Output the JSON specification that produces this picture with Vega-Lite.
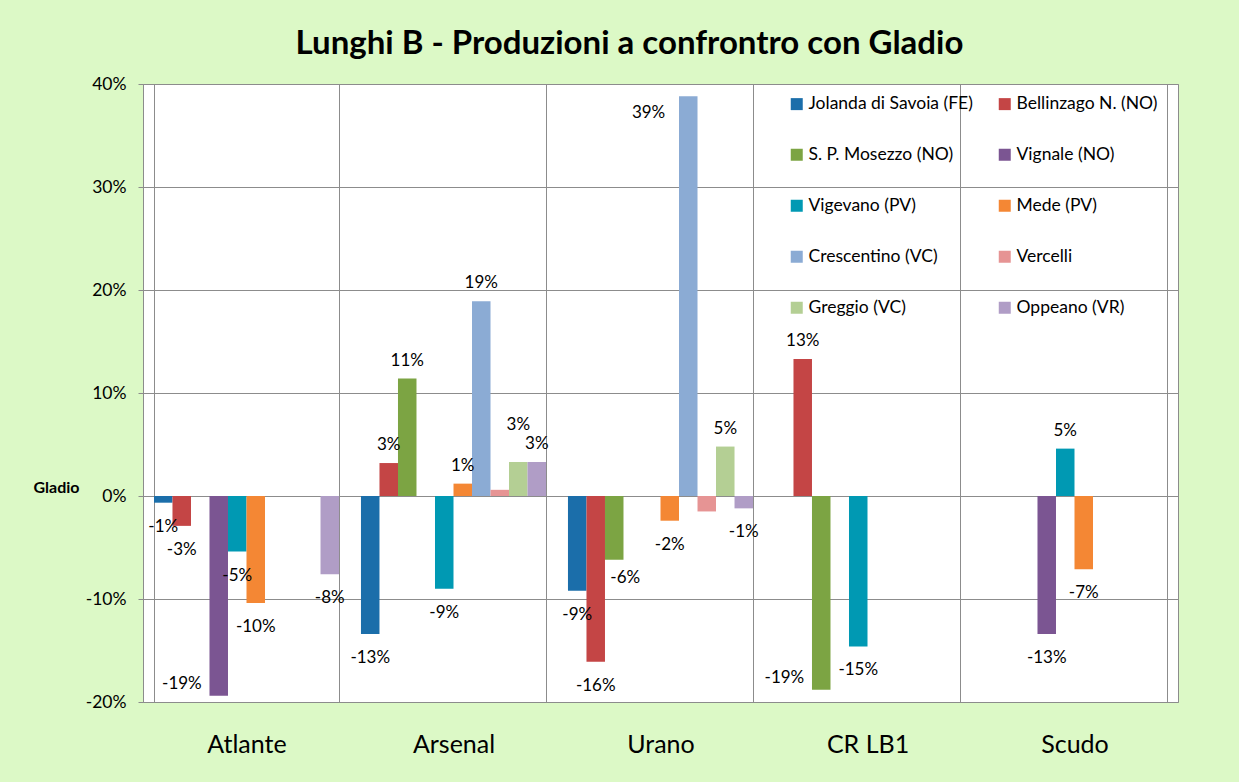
{
  "$schema": "https://vega.github.io/schema/vega-lite/v6.json",
  "width": 1035,
  "height": 618,
  "autosize": {"type": "none"},
  "padding": {"left": 143, "top": 84, "right": 61, "bottom": 80},
  "background": "#DCF9C6",
  "title": {
    "text": "Lunghi B - Produzioni a confrontro con Gladio",
    "font": "Lato",
    "fontSize": 33,
    "fontWeight": "bold",
    "color": "#000000",
    "anchor": "middle",
    "dx": -31,
    "offset": 14
  },
  "config": {
    "view": {"stroke": "#8C8C8C", "fill": "#FFFFFF"},
    "font": "Lato",
    "locale": {
      "number": {"decimal": ".", "thousands": ",", "grouping": [3], "currency": ["$", ""], "minus": "-"}
    }
  },
  "data": {
    "values": [
      {"cat": "Atlante", "series": "Jolanda di Savoia (FE)", "value": -0.0065},
      {"cat": "Atlante", "series": "Bellinzago N. (NO)", "value": -0.029},
      {"cat": "Atlante", "series": "Vignale (NO)", "value": -0.194},
      {"cat": "Atlante", "series": "Vigevano (PV)", "value": -0.054},
      {"cat": "Atlante", "series": "Mede (PV)", "value": -0.104},
      {"cat": "Atlante", "series": "Oppeano (VR)", "value": -0.076},
      {"cat": "Arsenal", "series": "Jolanda di Savoia (FE)", "value": -0.134},
      {"cat": "Arsenal", "series": "Bellinzago N. (NO)", "value": 0.032},
      {"cat": "Arsenal", "series": "S. P. Mosezzo (NO)", "value": 0.114},
      {"cat": "Arsenal", "series": "Vigevano (PV)", "value": -0.09},
      {"cat": "Arsenal", "series": "Mede (PV)", "value": 0.012},
      {"cat": "Arsenal", "series": "Crescentino (VC)", "value": 0.189},
      {"cat": "Arsenal", "series": "Vercelli", "value": 0.006},
      {"cat": "Arsenal", "series": "Greggio (VC)", "value": 0.033},
      {"cat": "Arsenal", "series": "Oppeano (VR)", "value": 0.033},
      {"cat": "Urano", "series": "Jolanda di Savoia (FE)", "value": -0.092},
      {"cat": "Urano", "series": "Bellinzago N. (NO)", "value": -0.161},
      {"cat": "Urano", "series": "S. P. Mosezzo (NO)", "value": -0.062},
      {"cat": "Urano", "series": "Mede (PV)", "value": -0.024},
      {"cat": "Urano", "series": "Crescentino (VC)", "value": 0.388},
      {"cat": "Urano", "series": "Vercelli", "value": -0.015},
      {"cat": "Urano", "series": "Greggio (VC)", "value": 0.048},
      {"cat": "Urano", "series": "Oppeano (VR)", "value": -0.012},
      {"cat": "CR LB1", "series": "Bellinzago N. (NO)", "value": 0.133},
      {"cat": "CR LB1", "series": "S. P. Mosezzo (NO)", "value": -0.188},
      {"cat": "CR LB1", "series": "Vigevano (PV)", "value": -0.146},
      {"cat": "Scudo", "series": "Vignale (NO)", "value": -0.134},
      {"cat": "Scudo", "series": "Vigevano (PV)", "value": 0.046},
      {"cat": "Scudo", "series": "Mede (PV)", "value": -0.071}
    ]
  },
  "encoding": {
    "x": {
      "field": "cat",
      "type": "nominal",
      "sort": ["Atlante", "Arsenal", "Urano", "CR LB1", "Scudo"],
      "scale": {"paddingInner": 0.106, "paddingOuter": 0.053},
      "axis": {
        "title": null,
        "labelAngle": 0,
        "labelFontSize": 25,
        "labelColor": "#000000",
        "labelFont": "Lato",
        "ticks": false,
        "domain": false,
        "grid": true,
        "tickBand": "extent",
        "gridColor": "#8C8C8C",
        "labelPadding": 30
      }
    },
    "xOffset": {
      "field": "series",
      "type": "nominal",
      "scale": {
        "domain": ["Jolanda di Savoia (FE)", "Bellinzago N. (NO)", "S. P. Mosezzo (NO)", "Vignale (NO)", "Vigevano (PV)", "Mede (PV)", "Crescentino (VC)", "Vercelli", "Greggio (VC)", "Oppeano (VR)"],
        "paddingInner": 0,
        "paddingOuter": 0
      }
    },
    "y": {
      "field": "value",
      "type": "quantitative",
      "scale": {"domain": [-0.2, 0.4], "nice": false},
      "axis": {
        "values": [-0.2, -0.1, 0, 0.1, 0.2, 0.3, 0.4],
        "format": ".0%",
        "labelFontSize": 17.5,
        "labelColor": "#000000",
        "labelFont": "Lato",
        "tickColor": "#8C8C8C",
        "tickSize": 5,
        "domainColor": "#8C8C8C",
        "gridColor": "#8C8C8C",
        "labelPadding": 12,
        "title": "Gladio",
        "titleAngle": 0,
        "titleX": -87,
        "titleY": 403,
        "titleAlign": "center",
        "titleBaseline": "middle",
        "titleFontSize": 16,
        "titleFont": "Lato",
        "titleFontWeight": "bold",
        "titleColor": "#000000"
      }
    }
  },
  "layer": [
    {
      "mark": {"type": "bar"},
      "encoding": {
        "color": {
          "field": "series",
          "type": "nominal",
          "scale": {
            "domain": ["Jolanda di Savoia (FE)", "Bellinzago N. (NO)", "S. P. Mosezzo (NO)", "Vignale (NO)", "Vigevano (PV)", "Mede (PV)", "Crescentino (VC)", "Vercelli", "Greggio (VC)", "Oppeano (VR)"],
            "range": ["#1B6EAA", "#C44545", "#7CA443", "#7B5592", "#0099B3", "#F48734", "#8BABD4", "#E69494", "#B4CF94", "#B09DC6"]
          },
          "legend": {
            "orient": "none",
            "legendX": 645,
            "legendY": 11,
            "direction": "horizontal",
            "columns": 2,
            "title": null,
            "symbolType": "square",
            "symbolSize": 144,
            "symbolStrokeWidth": 0,
            "labelFontSize": 17.5,
            "labelFont": "Lato",
            "labelColor": "#000000",
            "rowPadding": 32,
            "columnPadding": 23,
            "labelOffset": 3,
            "labelLimit": 300,
            "padding": 0
          }
        }
      }
    },
    {
      "transform": [{"filter": "datum.value > 0 && datum.value < 0.35 && datum.series != 'Vercelli' && !(datum.cat == 'Arsenal' && datum.series == 'Greggio (VC)')"}],
      "mark": {"type": "text", "baseline": "middle", "dy": -18, "fontSize": 17, "font": "Lato", "color": "#000000"},
      "encoding": {"text": {"field": "value", "type": "quantitative", "format": ".0%"}}
    },
    {
      "transform": [{"filter": "datum.cat == 'Arsenal' && datum.series == 'Greggio (VC)'"}],
      "mark": {"type": "text", "baseline": "middle", "dy": -37, "fontSize": 17, "font": "Lato", "color": "#000000"},
      "encoding": {"text": {"field": "value", "type": "quantitative", "format": ".0%"}}
    },
    {
      "transform": [{"filter": "datum.value >= 0.35"}],
      "mark": {"type": "text", "baseline": "middle", "align": "right", "dx": -23, "dy": 17, "fontSize": 17, "font": "Lato", "color": "#000000"},
      "encoding": {"text": {"field": "value", "type": "quantitative", "format": ".0%"}}
    },
    {
      "transform": [{"filter": "datum.value < 0 && datum.value >= -0.17 && datum.series != 'Vercelli' && !(datum.cat == 'Urano' && datum.series == 'S. P. Mosezzo (NO)')"}],
      "mark": {"type": "text", "baseline": "middle", "dy": 24, "fontSize": 17, "font": "Lato", "color": "#000000"},
      "encoding": {"text": {"field": "value", "type": "quantitative", "format": ".0%"}}
    },
    {
      "transform": [{"filter": "datum.cat == 'Urano' && datum.series == 'S. P. Mosezzo (NO)'"}],
      "mark": {"type": "text", "baseline": "middle", "dx": 11, "dy": 18, "fontSize": 17, "font": "Lato", "color": "#000000"},
      "encoding": {"text": {"field": "value", "type": "quantitative", "format": ".0%"}}
    },
    {
      "transform": [{"filter": "datum.value < -0.17"}],
      "mark": {"type": "text", "baseline": "middle", "align": "right", "dx": -17, "dy": -12, "fontSize": 17, "font": "Lato", "color": "#000000"},
      "encoding": {"text": {"field": "value", "type": "quantitative", "format": ".0%"}}
    }
  ]
}
